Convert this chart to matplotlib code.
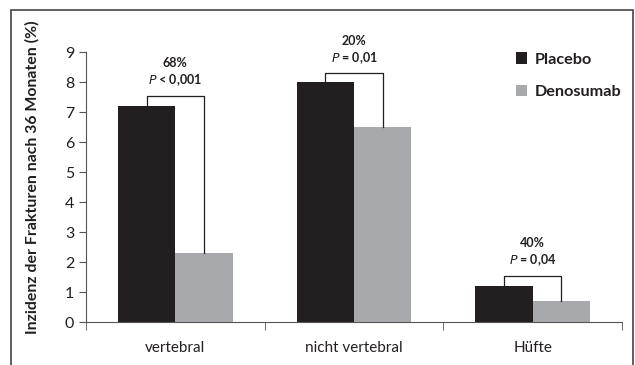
import matplotlib.pyplot as plt
from matplotlib.patches import Rectangle
import numpy as np

plt.rcParams['font.family'] = ['Lato', 'DejaVu Sans']

categories = ["vertebral", "nicht vertebral", "Hüfte"]
placebo = [7.2, 8.0, 1.2]
denosumab = [2.3, 6.5, 0.7]
reduction = ["68%", "20%", "40%"]
pvals = ["< 0,001", "= 0,01", "= 0,04"]
bracket_top = [7.55, 8.3, 1.55]

fig = plt.figure(figsize=(6.35, 3.65), dpi=100)
ax = fig.add_axes([86/635, 43/365, 536/635, 270/365])

x = np.arange(len(categories))
w = 0.32
ax.bar(x - w/2, placebo, w, color="#231f20", label="Placebo")
ax.bar(x + w/2, denosumab, w, color="#a7a9ac", label="Denosumab")

# brackets + labels
for i in range(len(categories)):
    xl, xr = x[i] - w/2, x[i] + w/2
    ax.plot([xl, xl, xr, xr], [placebo[i], bracket_top[i], bracket_top[i], denosumab[i]],
            color="#231f20", lw=0.9)
    ax.text(x[i], bracket_top[i] + 1.07, reduction[i], ha="center", va="center",
            fontsize=9, fontweight="bold", color="#231f20")
    ax.text(x[i], bracket_top[i] + 0.5, r"$\bf{\it{P}}$ " + pvals[i], ha="center", va="center",
            fontsize=9, fontweight="bold", color="#231f20")

ax.set_xlim(-0.5, 2.5)
ax.set_ylim(0, 9)
ax.set_yticks(range(10))
ax.set_xticks(x)
ax.set_xticklabels(categories, fontsize=11, color="#231f20")
ax.tick_params(axis="x", length=0, pad=14)
ax.set_xticks([-0.5, 0.5, 1.5, 2.5], minor=True)
ax.tick_params(axis="x", which="minor", length=6, color="#555555", direction="out")
ax.tick_params(axis="y", labelsize=11.5, length=5, color="#555555", labelcolor="#231f20")
for s in ["top", "right"]:
    ax.spines[s].set_visible(False)
for s in ["left", "bottom"]:
    ax.spines[s].set_color("#555555")
ax.set_ylabel("Inzidenz der Frakturen nach 36 Monaten (%)", fontsize=11.4,
              fontweight="bold", color="#231f20")
ax.yaxis.set_label_coords(-0.086, 0.537)

leg = ax.legend(loc="upper right", bbox_to_anchor=(1.027, 1.053), frameon=False,
                handlelength=0.7, handleheight=0.7, handletextpad=0.5, labelspacing=1.1,
                prop={"size": 11.7, "weight": "bold"})
for t in leg.get_texts():
    t.set_color("#231f20")

fig.patches.append(Rectangle((11/635, -0.05), 622/635, 1.05 - 10/365, transform=fig.transFigure,
                             fill=False, edgecolor="#444444", lw=1.2))

fig.savefig("out.png", dpi=100)
